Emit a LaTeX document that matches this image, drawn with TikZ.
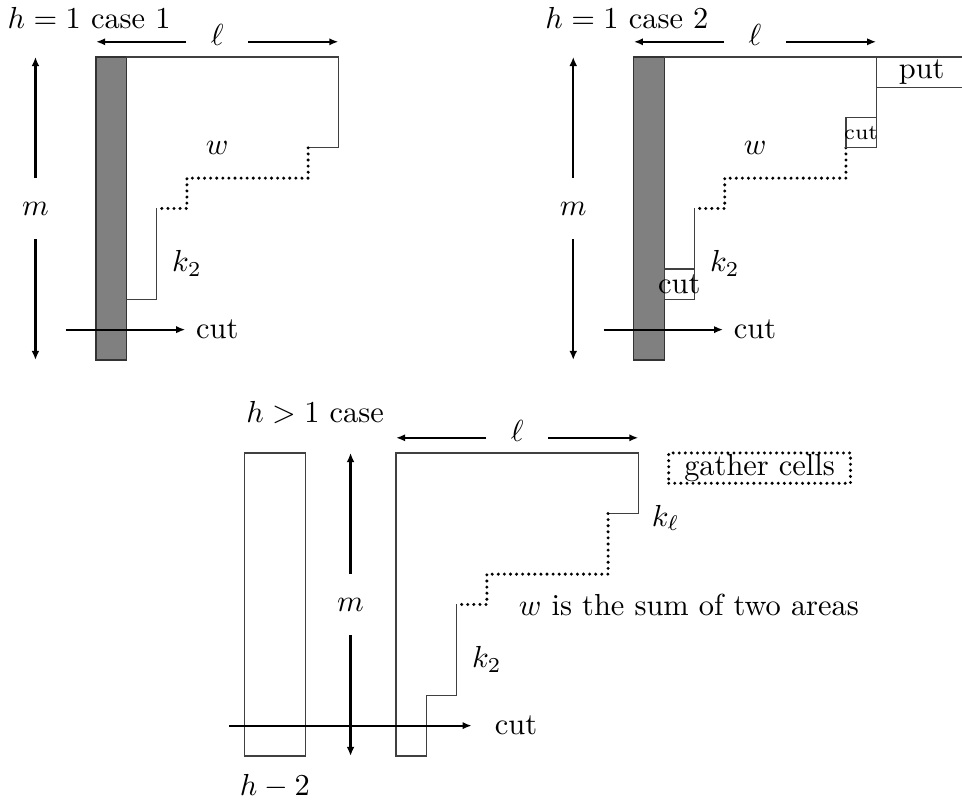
\documentclass[tikz,border=0pt]{standalone}
\usepackage{tikz}
\usetikzlibrary{arrows.meta,positioning}

\begin{document}
\begin{tikzpicture}[x=0.35cm,y=0.35cm,
  cell/.style={draw=black!75,line width=0.4pt},
  bar/.style={draw=black!80,fill=gray,line width=0.4pt},
  stair/.style={line width=1.1pt,line cap=round,dash pattern=on 0pt off 2pt},
  dimarrow/.style={-{Latex[length=3pt,width=2.4pt]},semithick},
  heightarrow/.style={-{Latex[length=3pt,width=2.6pt]},thick},
  ellnode/.style={minimum width=0.7cm,inner sep=0pt,text depth=4.4pt},
  mnode/.style={minimum height=0.7cm,inner sep=0pt},
  cellbox/.style={cell,inner sep=0pt,minimum width=0.35cm,minimum height=0.35cm},
  gatherbox/.style={draw,stair,inner sep=0pt,minimum width=2.1cm,minimum height=0.35cm}
]
\useasboundingbox (-3.17,1.88) rectangle (28.58,-24.69);

% h = 1, case 1
\begin{scope}
\draw[bar] (0,0) rectangle (1,-10);
\draw[cell] (1,0) -- (8,0) -- (8,-3) -- (7,-3);
\draw[stair] (7,-3) -- (7,-4) -- (3,-4) -- (3,-5) -- (2,-5);
\draw[cell] (2,-5) -- (2,-8) -- (1,-8);
\node (titleA) at (-0.23,1.29) {$h=1$ case 1};
\node[ellnode] (ellA) at (4,0.5) {$\ell$};
\coordinate (ellA0) at (0,0.5);
\coordinate (ellA1) at (8,0.5);
\draw[dimarrow] (ellA) -- (ellA0);
\draw[dimarrow] (ellA) -- (ellA1);
\node[mnode] (mA) at (-2,-5) {$m$};
\coordinate (mA0) at (-2,0);
\coordinate (mA1) at (-2,-10);
\draw[heightarrow] (mA) -- (mA0);
\draw[heightarrow] (mA) -- (mA1);
\node (wA) at (4,-3) {$w$};
\node (kA) at (3,-6.82) {$k_2$};
\coordinate (cutA0) at (-1,-9);
\node (cutA) at (4,-9) {cut};
\draw[dimarrow] (cutA0) -- (cutA);
\end{scope}

% h = 1, case 2
\begin{scope}[shift={(17.75,0)}]
\draw[bar] (0,0) rectangle (1,-10);
\draw[cell] (1,0) -- (8,0) -- (8,-3) -- (7,-3);
\draw[stair] (7,-3) -- (7,-4) -- (3,-4) -- (3,-5) -- (2,-5);
\draw[cell] (2,-5) -- (2,-8) -- (1,-8);
\node[cellbox,minimum width=1.05cm] (putB) at (9.5,-0.5) {put};
\draw[cell] (7,-2) rectangle (8,-3);
\node[inner sep=0pt,font=\scriptsize] (cutB2) at (7.5,-2.5) {cut};
\draw[cell] (1,-7) rectangle (2,-8);
\node (cutB1) at (1.5,-7.5) {cut};
\node (titleB) at (-0.23,1.29) {$h=1$ case 2};
\node[ellnode] (ellB) at (4,0.5) {$\ell$};
\coordinate (ellB0) at (0,0.5);
\coordinate (ellB1) at (8,0.5);
\draw[dimarrow] (ellB) -- (ellB0);
\draw[dimarrow] (ellB) -- (ellB1);
\node[mnode] (mB) at (-2,-5) {$m$};
\coordinate (mB0) at (-2,0);
\coordinate (mB1) at (-2,-10);
\draw[heightarrow] (mB) -- (mB0);
\draw[heightarrow] (mB) -- (mB1);
\node (wB) at (4,-3) {$w$};
\node (kB) at (3,-6.82) {$k_2$};
\coordinate (cutB0) at (-1,-9);
\node (cutB) at (4,-9) {cut};
\draw[dimarrow] (cutB0) -- (cutB);
\end{scope}

% h > 1
\begin{scope}[shift={(9.9,-13.07)}]
\draw[cell] (-5,0) rectangle (-3,-10);
\draw[cell] (2,-5) -- (2,-8) -- (1,-8) -- (1,-10) -- (0,-10) -- (0,0)
  -- (8,0) -- (8,-2) -- (7,-2);
\draw[stair] (7,-2) -- (7,-4) -- (3,-4) -- (3,-5) -- (2,-5);
\node (titleC) at (-2.67,1.32) {$h>1$ case};
\node (hC) at (-4,-11) {$h-2$};
\node[ellnode] (ellC) at (4,0.5) {$\ell$};
\coordinate (ellC0) at (0,0.5);
\coordinate (ellC1) at (8,0.5);
\draw[dimarrow] (ellC) -- (ellC0);
\draw[dimarrow] (ellC) -- (ellC1);
\node[mnode] (mC) at (-1.5,-5) {$m$};
\coordinate (mC0) at (-1.5,0);
\coordinate (mC1) at (-1.5,-10);
\draw[heightarrow] (mC) -- (mC0);
\draw[heightarrow] (mC) -- (mC1);
\node[gatherbox] (gather) at (12,-0.5) {gather cells};
\node (klC) at (8.9,-2.15) {$k_\ell$};
\node[anchor=west] (wC) at (3.7,-5) {$w$ is the sum of two areas};
\node (kC) at (3,-6.82) {$k_2$};
\coordinate (cutC0) at (-5.5,-9);
\coordinate (cutC1) at (2.5,-9);
\node (cutC) at (3.96,-9) {cut};
\draw[dimarrow] (cutC0) -- (cutC1);
\end{scope}
\end{tikzpicture}
\end{document}
